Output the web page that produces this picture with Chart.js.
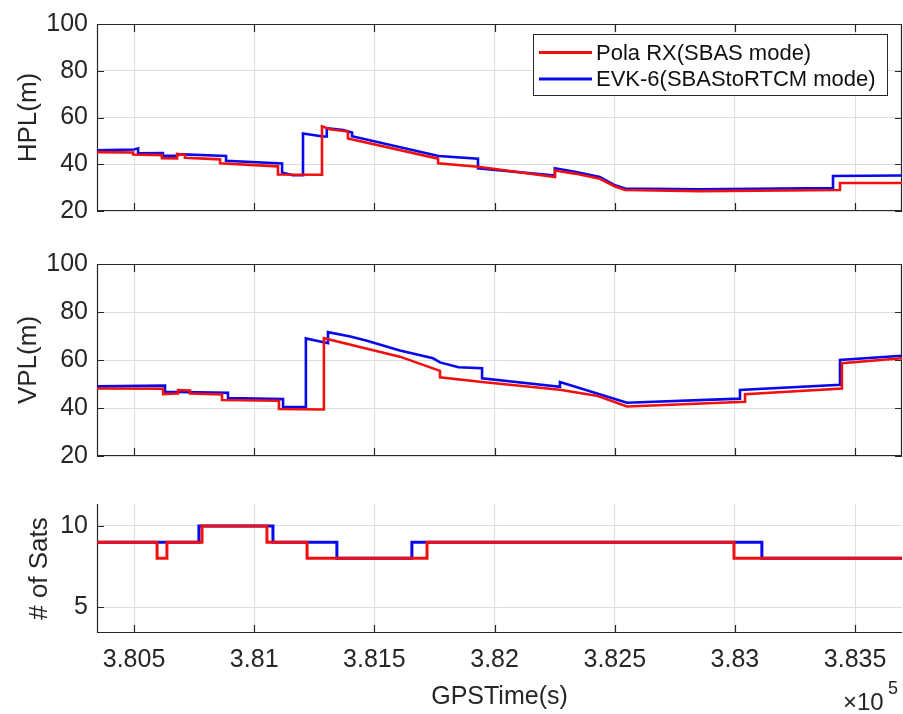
<!DOCTYPE html>
<html>
<head>
<meta charset="utf-8">
<script src="https://cdn.jsdelivr.net/npm/chart.js@4.4.0/dist/chart.umd.min.js"></script>
<style>
    html, body { margin: 0; padding: 0; background: #fff; }
    #wrap { position: relative; width: 903px; height: 714px; overflow: hidden; }
    canvas { position: absolute; left: 0; }
</style>
</head>
<body>
<div id="wrap">
    <canvas id="hpl-chart" width="903" height="240" style="top:0px"></canvas>
    <canvas id="vpl-chart" width="903" height="240" style="top:240px"></canvas>
    <canvas id="sats-chart" width="903" height="234" style="top:480px"></canvas>
</div>
<script>
// x axis (GPS time, s)
const xMin = 380346;
const xMax = 383695;
const xTickValues = [380500, 381000, 381500, 382000, 382500, 383000, 383500];
const xTickLabels = ['3.805', '3.81', '3.815', '3.82', '3.825', '3.83', '3.835'];

const seriesNames = ['Pola RX(SBAS mode)', 'EVK-6(SBAStoRTCM mode)'];

// HPL (m)
const hplPolaT = [380346, 380496, 380496, 380616, 380616, 380679, 380679, 380712, 380712, 380858, 380858, 381099, 381099, 381282, 381282, 381315, 381390, 381390, 381765, 381765, 381931, 382251, 382251, 382334, 382438, 382501, 382543, 382854, 383437, 383437, 383695];
const hplPolaV = [45.2, 45.0, 44.2, 43.9, 42.6, 42.5, 44.3, 44.1, 42.8, 42.1, 40.4, 39.1, 35.6, 35.5, 56.2, 55.0, 54.0, 51.0, 42.4, 40.4, 38.9, 34.5, 37.3, 36.0, 33.8, 30.5, 29.0, 28.5, 29.0, 32.0, 32.0];
const hplEvkT = [380346, 380500, 380517, 380517, 380620, 380620, 380680, 380680, 380883, 380883, 381116, 381116, 381160, 381203, 381203, 381286, 381302, 381302, 381370, 381407, 381407, 381767, 381931, 381931, 382251, 382251, 382334, 382438, 382501, 382543, 382854, 383408, 383408, 383695];
const hplEvkV = [46.0, 46.3, 46.8, 44.7, 44.8, 43.6, 43.7, 44.3, 43.5, 41.5, 40.3, 36.5, 35.3, 35.3, 53.2, 51.9, 51.9, 55.4, 54.6, 53.6, 52.0, 43.5, 42.4, 38.3, 35.2, 38.3, 36.8, 34.5, 31.0, 29.6, 29.3, 29.8, 35.0, 35.2];

// VPL (m)
const vplPolaT = [380346, 380621, 380621, 380683, 380683, 380733, 380733, 380866, 380866, 381103, 381103, 381290, 381290, 381469, 381606, 381773, 381773, 381948, 382272, 382430, 382551, 383042, 383042, 383445, 383445, 383695];
const vplPolaV = [48.1, 48.0, 45.8, 46.0, 47.5, 47.3, 46.0, 45.6, 43.3, 43.0, 39.6, 39.4, 69.1, 64.7, 61.4, 55.5, 52.8, 50.8, 47.6, 45.0, 40.6, 42.6, 45.7, 48.1, 58.7, 60.7];
const vplEvkT = [380346, 380629, 380629, 380891, 380891, 381120, 381120, 381215, 381215, 381307, 381307, 381400, 381469, 381606, 381744, 381773, 381850, 381948, 381948, 382272, 382272, 382551, 383021, 383021, 383437, 383437, 383695];
const vplEvkV = [49.0, 49.3, 46.8, 46.3, 44.1, 43.7, 40.5, 40.4, 69.0, 67.0, 71.6, 69.8, 68.0, 64.0, 60.7, 59.0, 57.0, 56.6, 52.4, 48.8, 50.8, 42.2, 43.9, 47.5, 49.7, 60.0, 61.8];

// number of satellites (value holds from each time on)
const satsPolaT = [380346, 380596, 380637, 380783, 381053, 381220, 381719, 382996, 383695];
const satsPolaV = [9, 8, 9, 10, 9, 8, 9, 8, 8];
const satsEvkT = [380346, 380770, 381078, 381344, 381656, 383112, 383695];
const satsEvkV = [9, 10, 9, 8, 9, 8, 8];

const FONT = "'Liberation Sans', Arial, Helvetica, sans-serif";
const RED = 'rgb(240, 16, 16)';
const BLUE = 'rgb(8, 8, 235)';
const INK = '#262626';
const GRID = '#dedede';

const toPoints = (t, v) => t.map((x, i) => ({ x: x, y: v[i] }));

const axesBox = {
    id: 'axesBox',
    beforeDatasetsDraw(chart, args, opts) {
        const { ctx, chartArea: a, scales: { x, y } } = chart;
        ctx.save();
        ctx.strokeStyle = INK;
        ctx.lineWidth = 1.2;
        ctx.beginPath();
        if (opts.full) {
            ctx.rect(a.left + 0.5, a.top + 0.5, a.width - 1, a.height - 1);
        } else {
            ctx.moveTo(a.left + 0.5, a.top);
            ctx.lineTo(a.left + 0.5, a.bottom - 0.5);
            ctx.lineTo(a.right, a.bottom - 0.5);
        }
        x.ticks.forEach(t => {
            const px = Math.round(x.getPixelForValue(t.value)) + 0.5;
            ctx.moveTo(px, a.bottom); ctx.lineTo(px, a.bottom - 8);
            if (opts.full) { ctx.moveTo(px, a.top); ctx.lineTo(px, a.top + 8); }
        });
        y.ticks.forEach(t => {
            const py = Math.round(y.getPixelForValue(t.value)) + 0.5;
            ctx.moveTo(a.left, py); ctx.lineTo(a.left + 7, py);
            if (opts.full) { ctx.moveTo(a.right, py); ctx.lineTo(a.right - 7, py); }
        });
        ctx.stroke();
        ctx.restore();
    }
};

const boxLegend = {
    id: 'boxLegend',
    afterDatasetsDraw(chart, args, opts) {
        if (!opts.show) return;
        const { ctx, chartArea: a } = chart;
        const w = 354, h = 61;
        const left = a.right - 15 - w, top = a.top + 10;
        ctx.save();
        ctx.fillStyle = '#fff';
        ctx.fillRect(left, top, w, h);
        ctx.strokeStyle = INK;
        ctx.lineWidth = 1;
        ctx.strokeRect(left + 0.5, top + 0.5, w, h);
        ctx.font = '22px ' + FONT;
        ctx.textBaseline = 'middle';
        chart.data.datasets.forEach((ds, i) => {
            const cy = top + 18.5 + i * 26.5;
            ctx.strokeStyle = ds.borderColor;
            ctx.lineWidth = 3;
            ctx.beginPath();
            ctx.moveTo(left + 6, cy); ctx.lineTo(left + 59, cy);
            ctx.stroke();
            ctx.fillStyle = '#111';
            ctx.fillText(ds.label, left + 63, cy + 1);
        });
        ctx.restore();
    }
};

const expLabel = {
    id: 'expLabel',
    afterDraw(chart, args, opts) {
        if (!opts.show) return;
        const ctx = chart.ctx;
        ctx.save();
        ctx.fillStyle = INK;
        ctx.textBaseline = 'alphabetic';
        ctx.font = '24px ' + FONT;
        ctx.fillText('\u00d710', 843, 230);
        ctx.font = '18px ' + FONT;
        ctx.fillText('5', 888, 214);
        ctx.restore();
    }
};

function makeChart(id, datasets, cfg) {
    const ctx = document.getElementById(id).getContext('2d');
    return new Chart(ctx, {
        type: 'line',
        data: { datasets: datasets },
        options: {
            responsive: false,
            animation: false,
            events: [],
            layout: { padding: { left: 0, right: 1, top: cfg.padTop, bottom: cfg.padBottom } },
            elements: { point: { radius: 0 }, line: { tension: 0 } },
            plugins: {
                legend: { display: false },
                tooltip: { enabled: false },
                axesBox: { full: cfg.full },
                boxLegend: { show: !!cfg.legend },
                expLabel: { show: !!cfg.xLabels }
            },
            scales: {
                x: {
                    type: 'linear',
                    min: xMin,
                    max: xMax,
                    afterBuildTicks: s => { s.ticks = xTickValues.map(v => ({ value: v })); },
                    afterFit: s => { s.height = cfg.xHeight; },
                    border: { display: false },
                    grid: { color: GRID, lineWidth: 1, drawTicks: false },
                    ticks: {
                        display: !!cfg.xLabels,
                        padding: 12,
                        maxRotation: 0,
                        autoSkip: false,
                        color: INK,
                        font: { family: FONT, size: 25 },
                        callback: (v, i) => xTickLabels[i]
                    },
                    title: {
                        display: !!cfg.xLabels,
                        text: 'GPSTime(s)',
                        color: INK,
                        font: { family: FONT, size: 25 },
                        padding: { top: 0, bottom: 2 }
                    }
                },
                y: {
                    min: cfg.yMin,
                    max: cfg.yMax,
                    afterBuildTicks: s => { s.ticks = cfg.yTicks.map(v => ({ value: v })); },
                    afterFit: s => { s.width = 97; },
                    border: { display: false },
                    grid: { color: GRID, lineWidth: 1, drawTicks: false },
                    ticks: {
                        padding: 9,
                        color: INK,
                        font: { family: FONT, size: 25 },
                        callback: v => String(v)
                    },
                    title: {
                        display: true,
                        text: cfg.yTitle,
                        color: INK,
                        font: { family: FONT, size: 26 },
                        padding: { top: cfg.yTitlePad, bottom: 0 }
                    }
                }
            }
        },
        plugins: [axesBox, boxLegend, expLabel]
    });
}

function lineSet(label, color, t, v, width, stepped) {
    return {
        label: label,
        data: toPoints(t, v),
        borderColor: color,
        backgroundColor: color,
        borderWidth: width,
        stepped: stepped || false,
        fill: false
    };
}

makeChart('hpl-chart', [
    lineSet(seriesNames[0], RED, hplPolaT, hplPolaV, 2.6),
    lineSet(seriesNames[1], BLUE, hplEvkT, hplEvkV, 2.6)
], { padTop: 23, padBottom: 29, xHeight: 0, yMin: 20, yMax: 100, yTicks: [20, 40, 60, 80, 100], yTitle: 'HPL(m)', yTitlePad: 13.4, full: true, legend: true });

makeChart('vpl-chart', [
    lineSet(seriesNames[0], RED, vplPolaT, vplPolaV, 2.6),
    lineSet(seriesNames[1], BLUE, vplEvkT, vplEvkV, 2.6)
], { padTop: 23, padBottom: 16, xHeight: 0, yMin: 20, yMax: 100, yTicks: [20, 40, 60, 80, 100], yTitle: 'VPL(m)', yTitlePad: 13.4, full: true });

makeChart('sats-chart', [
    lineSet(seriesNames[0], RED, satsPolaT, satsPolaV, 3, 'before'),
    lineSet(seriesNames[1], BLUE, satsEvkT, satsEvkV, 3, 'before')
], { padTop: 22, padBottom: 0, xHeight: 81, yMin: 3.4, yMax: 11.35, yTicks: [5, 10], yTitle: '# of Sats', yTitlePad: 24, full: false, xLabels: true });
</script>
</body>
</html>
